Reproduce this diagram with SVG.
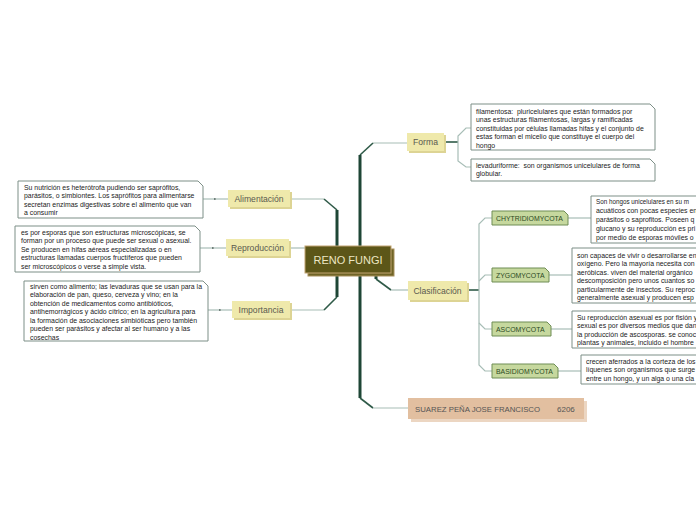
<svg xmlns="http://www.w3.org/2000/svg" width="696" height="520" viewBox="0 0 696 520">
<style>
.bg{fill:#ffffff}
.thick{fill:none;stroke:#1e4636;stroke-width:3}
.med{fill:none;stroke:#2f5a48;stroke-width:1.6}
.thin{fill:none;stroke:#a7bdb6;stroke-width:1.2}
.dot{fill:#4a5a55}
.desc{fill:#ffffff;stroke:#7d8f87;stroke-width:1}
.dt{font-family:"Liberation Sans",Arial,sans-serif;font-size:6.9px;fill:#222222;white-space:pre}
.l1{fill:#efe9ab}
.l1s{fill:#ddd494}
.l1t{font-family:"Liberation Sans",Arial,sans-serif;font-size:8.6px;fill:#5a5a50;text-anchor:middle}
.l2{fill:#c6d89e;stroke:#6f8d55;stroke-width:1}
.l2t{font-family:"Liberation Sans",Arial,sans-serif;font-size:6.9px;fill:#2c4a1e}
.ctr{fill:#5c5618;stroke:#c2a472;stroke-width:1}
.ctrs{fill:#6f6426;stroke:#a8905c;stroke-width:1}
.ctrt{font-family:"Liberation Sans",Arial,sans-serif;font-size:11px;fill:#ece6c4;text-anchor:middle}
.au{fill:#e2bfa0}
.aus{fill:#ecd6c2}
.aut{font-family:"Liberation Sans",Arial,sans-serif;font-size:8px;fill:#555555}
</style>
<rect class="bg" x="0" y="0" width="696" height="520"/>
<g id="connectors">
  <path class="thin" d="M290,199 H324"/>
  <path class="med" d="M324,199 L337,210"/>
  <path class="thin" d="M289,248 H305"/>
  <path class="thin" d="M290,310 H324"/>
  <path class="med" d="M324,310 L337,297"/>
  <path class="thick" d="M337,210 V297"/>
  <path class="thin" d="M408,143 H373"/>
  <path class="med" d="M373,143 L360,155"/>
  <path class="thick" d="M360,155 V398"/>
  <path class="med" d="M360,398 L373,408"/>
  <path class="thin" d="M373,408 H408"/>
  <path class="thick" d="M376,272 V279"/>
  <path class="med" d="M376,279 L391,290"/>
  <path class="thin" d="M391,290 H408"/>
  <path class="med" d="M445,142 H458"/>
  <path class="thin" d="M471,128 H466 L458,136 V161 L466,167 H471"/>
  <path class="med" d="M467,290 H479"/>
  <path class="thin" d="M492,218 H485 L479,224 V365 L485,371 H492"/>
  <path class="thin" d="M492,275 H485 L479,281"/>
  <path class="thin" d="M479,323 L485,329 H492"/>
  <path class="thin" d="M568,218 H591"/>
  <path class="thin" d="M549,275 H572"/>
  <path class="thin" d="M551,329 H572"/>
  <path class="thin" d="M558,371 H581"/>
  <path class="thin" d="M203,199 H228"/>
  <path class="thin" d="M200,248 H226"/>
  <path class="thin" d="M208,310 H232"/>
  <rect class="dot" x="214" y="198.3" width="1.6" height="1.4"/>
  <rect class="dot" x="212" y="247.3" width="1.6" height="1.4"/>
  <rect class="dot" x="219" y="309.3" width="1.6" height="1.4"/>
</g>
<g id="center">
  <rect class="ctrs" x="308" y="249" width="86" height="27"/>
  <rect class="ctr" x="305" y="246" width="86" height="27"/>
  <text class="ctrt" x="348" y="263.5">RENO FUNGI</text>
</g>
<g id="alimentacion">
  <rect class="l1s" x="230" y="192" width="62" height="17"/>
  <rect class="l1" x="228" y="190" width="62" height="17"/>
  <text class="l1t" x="259" y="202">Alimentación</text>
</g>
<g id="alimentacion-desc">
  <path class="desc" d="M18,181 H198 L203,186 V218 H18 Z"/>
  <text class="dt" x="24" y="189.5">Su nutrición es heterótrofa pudiendo ser saprófitos,</text>
  <text class="dt" x="24" y="198">parásitos, o simbiontes. Los saprófitos para alimentarse</text>
  <text class="dt" x="24" y="206.5">secretan enzimas digestivas sobre el alimento que van</text>
  <text class="dt" x="24" y="215">a consumir</text>
</g>
<g id="reproduccion">
  <rect class="l1s" x="228" y="241" width="63" height="17"/>
  <rect class="l1" x="226" y="239" width="63" height="17"/>
  <text class="l1t" x="257.5" y="251">Reproducción</text>
</g>
<g id="reproduccion-desc">
  <path class="desc" d="M15,226 H195 L200,231 V272 H15 Z"/>
  <text class="dt" x="21" y="234.5">es por esporas que son estructuras microscópicas, se</text>
  <text class="dt" x="21" y="243">forman por un proceso que puede ser sexual o asexual.</text>
  <text class="dt" x="21" y="251.5">Se producen en hifas aéreas especializadas o en</text>
  <text class="dt" x="21" y="260">estructuras llamadas cuerpos fructíferos que pueden</text>
  <text class="dt" x="21" y="268.5">ser microscópicos o verse a simple vista.</text>
</g>
<g id="importancia">
  <rect class="l1s" x="234" y="303" width="58" height="17"/>
  <rect class="l1" x="232" y="301" width="58" height="17"/>
  <text class="l1t" x="261" y="313">Importancia</text>
</g>
<g id="importancia-desc">
  <path class="desc" d="M24,281 H203 L208,286 V341 H24 Z"/>
  <text class="dt" x="30" y="288.5">sirven como alimento; las levaduras que se usan para la</text>
  <text class="dt" x="30" y="297">elaboración de pan, queso, cerveza y vino; en la</text>
  <text class="dt" x="30" y="305.5">obtención de medicamentos como antibióticos,</text>
  <text class="dt" x="30" y="314">antihemorrágicos y ácido cítrico; en la agricultura para</text>
  <text class="dt" x="30" y="322.5">la formación de asociaciones simbióticas pero también</text>
  <text class="dt" x="30" y="331">pueden ser parásitos y afectar al ser humano y a las</text>
  <text class="dt" x="30" y="339.5">cosechas</text>
</g>
<g id="forma">
  <rect class="l1s" x="409" y="135" width="37" height="18"/>
  <rect class="l1" x="407" y="133" width="37" height="18"/>
  <text class="l1t" x="425.5" y="145">Forma</text>
</g>
<g id="filamentosa">
  <path class="desc" d="M471,104 H650 L655,109 V150 H471 Z"/>
  <text class="dt" x="476" y="113.5" xml:space="preserve">filamentosa:  pluricelulares que están formados por</text>
  <text class="dt" x="476" y="122">unas estructuras filamentosas, largas y ramificadas</text>
  <text class="dt" x="476" y="130.5">constituidas por células llamadas hifas y el conjunto de</text>
  <text class="dt" x="476" y="139">estas forman el micelio que constituye el cuerpo del</text>
  <text class="dt" x="476" y="147.5">hongo</text>
</g>
<g id="levaduriforme">
  <path class="desc" d="M471,159 H650 L655,164 V181 H471 Z"/>
  <text class="dt" x="476" y="167.5" xml:space="preserve">levaduriforme:  son organismos unicelulares de forma</text>
  <text class="dt" x="476" y="176">globular.</text>
</g>
<g id="clasificacion">
  <rect class="l1s" x="410" y="283" width="59" height="19"/>
  <rect class="l1" x="408" y="281" width="59" height="19"/>
  <text class="l1t" x="437.5" y="294">Clasificación</text>
</g>
<g id="chytridiomycota">
  <path class="l2" d="M492,211 H564 L568,215 V225 H492 Z"/>
  <text class="l2t" x="496" y="220.5">CHYTRIDIOMYCOTA</text>
</g>
<g id="chytridiomycota-desc">
  <path class="desc" d="M591,196 H702 V243 H591 Z"/>
  <text class="dt" x="596" y="203.5" textLength="93" lengthAdjust="spacingAndGlyphs">Son hongos unicelulares en su m</text>
  <text class="dt" x="596" y="212.5">acuáticos con pocas especies en</text>
  <text class="dt" x="596" y="221.5">parásitos o saprofitos. Poseen q</text>
  <text class="dt" x="596" y="230.5">glucano y su reproducción es pri</text>
  <text class="dt" x="596" y="239.5">por medio de esporas móviles o</text>
</g>
<g id="zygomycota">
  <path class="l2" d="M492,268 H545 L549,272 V282 H492 Z"/>
  <text class="l2t" x="496" y="277.5">ZYGOMYCOTA</text>
</g>
<g id="zygomycota-desc">
  <path class="desc" d="M572,248 H702 V303 H572 Z"/>
  <text class="dt" x="577" y="257.5">son capaces de vivir o desarrollarse en</text>
  <text class="dt" x="577" y="266">oxígeno. Pero la mayoría necesita con</text>
  <text class="dt" x="577" y="274.5">aeróbicas. viven del material orgánico</text>
  <text class="dt" x="577" y="283">descomposición pero unos cuantos so</text>
  <text class="dt" x="577" y="291.5">particularmente de insectos. Su reproc</text>
  <text class="dt" x="577" y="300">generalmente asexual y producen esp</text>
</g>
<g id="ascomycota">
  <path class="l2" d="M492,322 H547 L551,326 V336 H492 Z"/>
  <text class="l2t" x="496" y="331.5">ASCOMYCOTA</text>
</g>
<g id="ascomycota-desc">
  <path class="desc" d="M572,311 H702 V348 H572 Z"/>
  <text class="dt" x="577" y="319.5">Su reproducción asexual es por fisión y</text>
  <text class="dt" x="577" y="328">sexual es por diversos medios que dan</text>
  <text class="dt" x="577" y="336.5">la producción de ascosporas. se conoc</text>
  <text class="dt" x="577" y="345">plantas y animales, incluido el hombre</text>
</g>
<g id="basidiomycota">
  <path class="l2" d="M492,364 H554 L558,368 V378 H492 Z"/>
  <text class="l2t" x="496" y="373.5">BASIDIOMYCOTA</text>
</g>
<g id="basidiomycota-desc">
  <path class="desc" d="M581,355 H702 V384 H581 Z"/>
  <text class="dt" x="586" y="363.5">crecen aferrados a la corteza de los</text>
  <text class="dt" x="586" y="372">líquenes son organismos que surge</text>
  <text class="dt" x="586" y="380.5">entre un hongo, y un alga o una cla</text>
</g>
<g id="autor">
  <rect class="aus" x="411" y="401" width="176" height="21"/>
  <rect class="au" x="408" y="398" width="176" height="21"/>
  <text class="aut" x="415" y="411.5" textLength="125" lengthAdjust="spacingAndGlyphs">SUAREZ PEÑA JOSE FRANCISCO</text>
  <text class="aut" x="557" y="411.5">6206</text>
</g>
</svg>
